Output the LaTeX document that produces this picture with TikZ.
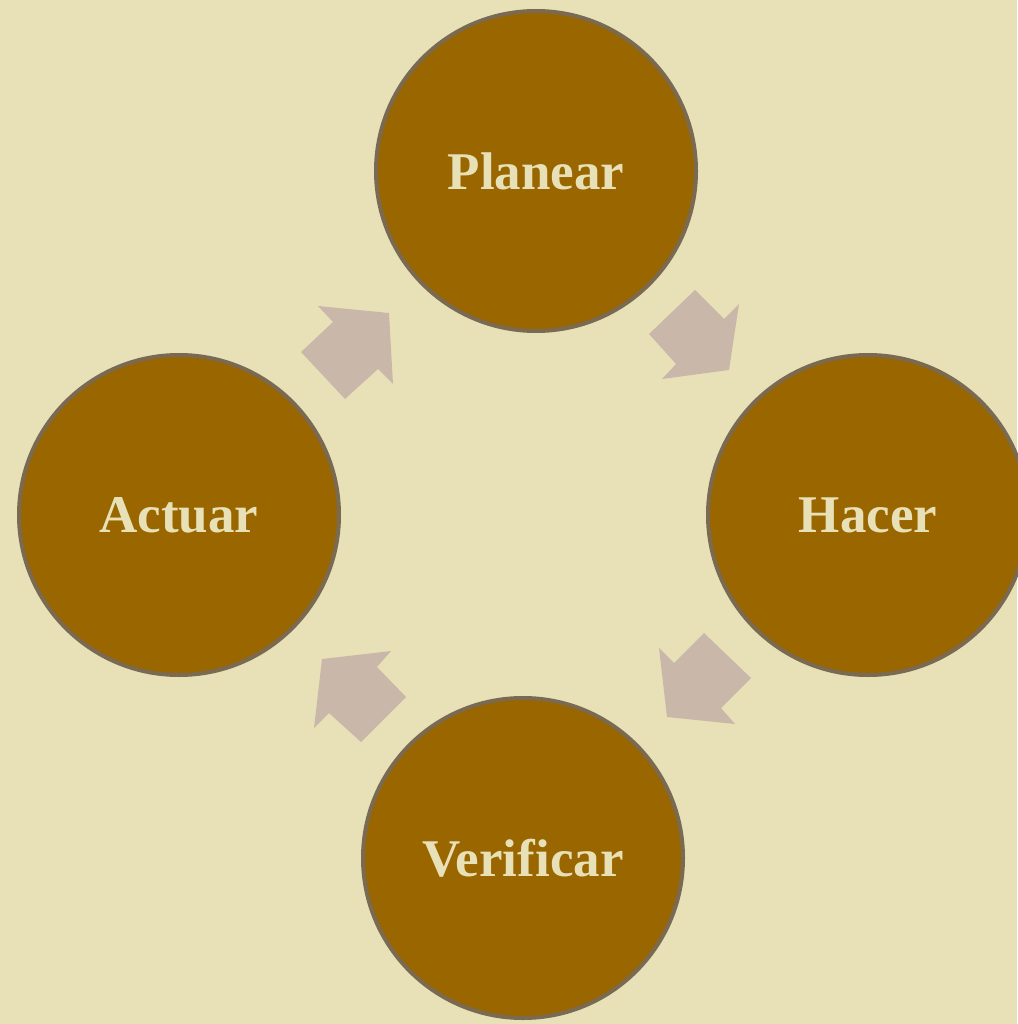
\documentclass[tikz,border=0pt]{standalone}
\usepackage{fontspec}
\setmainfont{Liberation Serif}
\definecolor{paper}{HTML}{E8E1B7}
\definecolor{ochre}{HTML}{996600}
\definecolor{rim}{HTML}{7A6A52}
\definecolor{taupe}{HTML}{C9B8AA}

\begin{document}
\begin{tikzpicture}[x=1pt, y=-1pt,
	stage/.style={circle, fill=ochre, draw=rim, line width=4pt, minimum size=320pt, inner sep=0pt,
		text=paper, font=\fontsize{53}{60}\selectfont\bfseries},
	flow/.style={fill=taupe}]
	\fill[paper] (0,0) rectangle (1017,1024);
	\useasboundingbox (0,0) rectangle (1017,1024);
	% the four stages
	\node[stage] (plan) at (536,171) {Planear};
	\node[stage] (do) at (868,515) {Hacer};
	\node[stage] (check) at (523,858) {Verificar};
	\node[stage] (act) at (179,515) {Actuar};
	% block arrows between them
	\fill[flow] (301,352) -- (333,322) -- (318,306) -- (389,313) -- (393,384) -- (378,369) -- (345,399) -- cycle;
	\fill[flow] (695,290) -- (724,319) -- (739,304) -- (729,370) -- (662,379) -- (676,364) -- (649,334) -- cycle;
	\fill[flow] (704,633) -- (751,678) -- (721,708) -- (735,724) -- (667,717) -- (659,648) -- (674,663) -- cycle;
	\fill[flow] (391,651) -- (377,667) -- (406,697) -- (361,742) -- (329,713) -- (314,728) -- (322,659) -- cycle;
\end{tikzpicture}
\end{document}
